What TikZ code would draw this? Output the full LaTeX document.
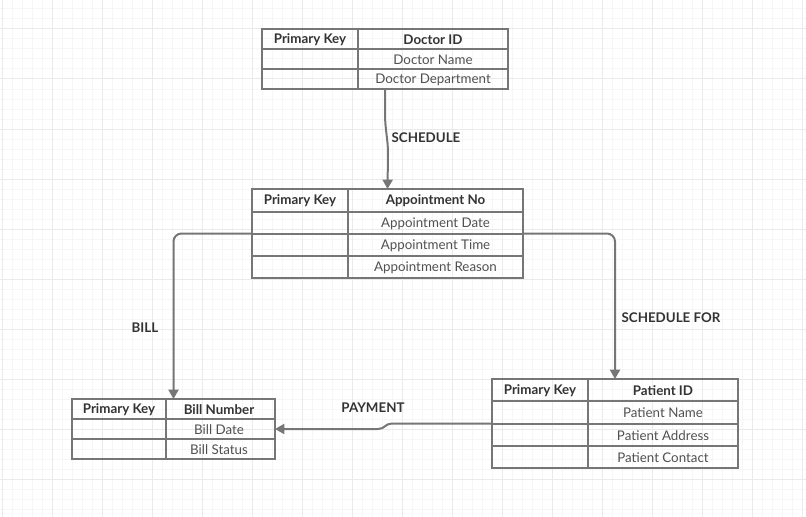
\documentclass[tikz,border=0pt]{standalone}
\usepackage{fontspec}
\setmainfont{Lato}
\usetikzlibrary{arrows.meta,calc}
\definecolor{linegray}{RGB}{118,118,118}
\definecolor{textdark}{RGB}{51,51,51}
\definecolor{textmid}{RGB}{80,80,80}
\definecolor{gridminor}{RGB}{246,246,246}
\definecolor{gridmajor}{RGB}{234,234,234}
\tikzset{every picture/.style={line width=0.75pt}}
\tikzset{
  tablebox/.style={draw=linegray, line width=1.5pt, inner sep=0pt, outer sep=0pt, anchor=north west},
  tablerule/.style={draw=linegray, line width=1.5pt},
  headtext/.style={inner sep=0.75pt, text=textdark, font=\fontsize{10}{12}\selectfont\bfseries},
  celltext/.style={inner sep=0.75pt, text=textmid, font=\fontsize{10}{12}\selectfont},
  linktext/.style={inner sep=0.75pt, text=textdark, font=\fontsize{10}{12}\selectfont\bfseries},
  link/.style={draw=linegray, line width=1.5pt, -{Triangle[length=7pt,width=7.5pt]}},
  elbow/.style={link, rounded corners=6pt}
}

\begin{document}
\begin{tikzpicture}[x=0.75pt,y=0.75pt,yscale=-1,xscale=1]
    \useasboundingbox (0,0) rectangle (806,517);
    % Grid
    \foreach \gx in {2,12,...,802} \draw[gridminor] (\gx,0) -- (\gx,517);
    \foreach \gy in {9,19,...,509} \draw[gridminor] (0,\gy) -- (806,\gy);
    \foreach \gx in {2,52,...,802} \draw[gridmajor] (\gx,0) -- (\gx,517);
    \foreach \gy in {29,79,...,509} \draw[gridmajor] (0,\gy) -- (806,\gy);

    % Table: Doctor
    \node[tablebox, minimum width={246*0.75pt}, minimum height={60*0.75pt}] (doctor) at (262,29) {};
    \draw[tablerule] (358,29) -- (358,89);
    \draw[tablerule] (262,49) -- (508,49);
    \draw[tablerule] (262,69) -- (508,69);
    \node[headtext] (docKey) at (310,39.5) {Primary Key};
    \node[headtext] (docId) at (433,39.5) {Doctor ID};
    \node[celltext] (docName) at (433,59.5) {Doctor Name};
    \node[celltext] (docDept) at (433,79.5) {Doctor Department};

    % Table: Appointment
    \node[tablebox, minimum width={271*0.75pt}, minimum height={89*0.75pt}] (appt) at (252,189) {};
    \draw[tablerule] (348,189) -- (348,278);
    \draw[tablerule] (252,212) -- (523,212);
    \draw[tablerule] (252,234) -- (523,234);
    \draw[tablerule] (252,256) -- (523,256);
    \node[headtext] (apptKey) at (300,201) {Primary Key};
    \node[headtext] (apptNo) at (435.5,201) {Appointment No};
    \node[celltext] (apptDate) at (435.5,223.5) {Appointment Date};
    \node[celltext] (apptTime) at (435.5,245.5) {Appointment Time};
    \node[celltext] (apptReason) at (435.5,267.5) {Appointment Reason};

    % Table: Bill
    \node[tablebox, minimum width={203*0.75pt}, minimum height={60*0.75pt}] (bill) at (72,399) {};
    \draw[tablerule] (166,399) -- (166,459);
    \draw[tablerule] (72,419) -- (275,419);
    \draw[tablerule] (72,439) -- (275,439);
    \node[headtext] (billKey) at (119,409.5) {Primary Key};
    \node[headtext] (billNo) at (219,409.5) {Bill Number};
    \node[celltext] (billDate) at (219,429.5) {Bill Date};
    \node[celltext] (billStatus) at (219,449.5) {Bill Status};

    % Table: Patient
    \node[tablebox, minimum width={246*0.75pt}, minimum height={89*0.75pt}] (patient) at (492,379) {};
    \draw[tablerule] (588,379) -- (588,468);
    \draw[tablerule] (492,401) -- (738,401);
    \draw[tablerule] (492,424) -- (738,424);
    \draw[tablerule] (492,446) -- (738,446);
    \node[headtext] (patKey) at (540,390.5) {Primary Key};
    \node[headtext] (patId) at (663,390.5) {Patient ID};
    \node[celltext] (patName) at (663,413) {Patient Name};
    \node[celltext] (patAddr) at (663,435.5) {Patient Address};
    \node[celltext] (patContact) at (663,457.5) {Patient Contact};

    % Connection
    \draw[link] (doctor.south) -- ++(0,25) .. controls +(0,15) and +(0,-15) .. ++(3,40) -- (appt.north);
    \node[linktext] (lblSchedule) at (426,138) {SCHEDULE};
    % Connection
    \draw[elbow] (appt.west) -| (bill.north);
    \node[linktext] (lblBill) at (145,328) {BILL};
    % Connection
    \draw[elbow] (appt.east) -| (patient.north);
    \node[linktext] (lblScheduleFor) at (671,318) {SCHEDULE FOR};
    % Connection
    \draw[link] (patient.west) -- ++(-100,0) .. controls +(-7,0) and +(7,0) .. ($(bill.east)+(103,0)$) -- (bill.east);
    \node[linktext] (lblPayment) at (373,408) {PAYMENT};
\end{tikzpicture}
\end{document}
